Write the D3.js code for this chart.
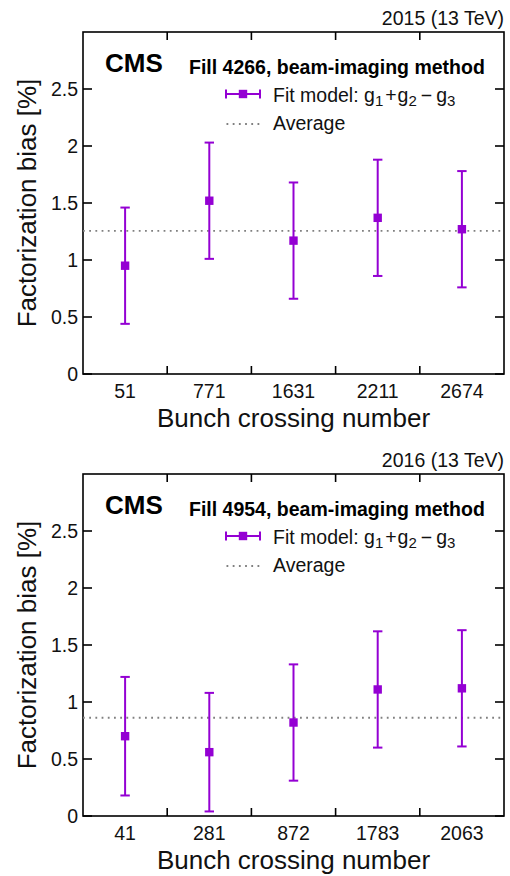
<!DOCTYPE html>
<html>
<head>
<meta charset="utf-8">
<script src="https://cdn.jsdelivr.net/npm/d3@7"></script>
<style>
  html, body { margin: 0; padding: 0; background: #fff; }
  svg { display: block; font-family: "Liberation Sans", Arial, sans-serif; }
</style>
</head>
<body>
<svg id="chart" width="510" height="876"></svg>
<script>
// ---- data ----
const bunches2015 = ["51", "771", "1631", "2211", "2674"];
const bias2015 = [0.95, 1.52, 1.17, 1.37, 1.27];
const err2015 = [0.51, 0.51, 0.51, 0.51, 0.51];
const avg2015 = 1.256;

const bunches2016 = ["41", "281", "872", "1783", "2063"];
const bias2016 = [0.70, 0.56, 0.82, 1.11, 1.12];
const err2016 = [0.52, 0.52, 0.51, 0.51, 0.51];
const avg2016 = 0.862;

const yTicks = [0, 0.5, 1, 1.5, 2, 2.5];
const yTickLabels = ["0", "0.5", "1", "1.5", "2", "2.5"];

const panels = [
  { year: "2015 (13 TeV)", fill: "Fill 4266, beam-imaging method", cats: bunches2015, vals: bias2015, errs: err2015, avg: avg2015 },
  { year: "2016 (13 TeV)", fill: "Fill 4954, beam-imaging method", cats: bunches2016, vals: bias2016, errs: err2016, avg: avg2016 }
];

const purple = "#9400d3";
const svg = d3.select("#chart");

function drawPanel(p, offsetY) {
  const g = svg.append("g").attr("transform", `translate(0,${offsetY})`);
  const L = 83, R = 504, T = 32, B = 374;
  const x = d3.scaleBand().domain(p.cats).range([L, R]).padding(0);
  const y = d3.scaleLinear().domain([0, 3]).range([B, T]);
  const cx = c => x(c) + x.bandwidth() / 2;

  // frame
  g.append("rect").attr("x", L).attr("y", T).attr("width", R - L).attr("height", B - T)
    .attr("fill", "none").attr("stroke", "#000").attr("stroke-width", 1.6);

  // y ticks (left & right, inward)
  yTicks.forEach((v, i) => {
    g.append("line").attr("x1", L).attr("x2", L + 9).attr("y1", y(v)).attr("y2", y(v))
      .attr("stroke", "#000").attr("stroke-width", 1.6);
    g.append("line").attr("x1", R).attr("x2", R - 9).attr("y1", y(v)).attr("y2", y(v))
      .attr("stroke", "#000").attr("stroke-width", 1.6);
    g.append("text").attr("x", L - 5).attr("y", y(v)).attr("dy", "0.36em")
      .attr("text-anchor", "end").attr("font-size", 19.5).attr("fill", "#111")
      .text(yTickLabels[i]);
  });

  // x ticks at category boundaries (bottom & top, inward)
  p.cats.slice(1).forEach(c => {
    const xv = x(c);
    g.append("line").attr("x1", xv).attr("x2", xv).attr("y1", B).attr("y2", B - 8)
      .attr("stroke", "#000").attr("stroke-width", 1.6);
    g.append("line").attr("x1", xv).attr("x2", xv).attr("y1", T).attr("y2", T + 8)
      .attr("stroke", "#000").attr("stroke-width", 1.6);
  });
  // x tick labels
  p.cats.forEach(c => {
    g.append("text").attr("x", cx(c)).attr("y", 397.5).attr("text-anchor", "middle")
      .attr("font-size", 19.5).attr("fill", "#111").text(c);
  });

  // axis titles
  g.append("text").attr("x", (L + R) / 2).attr("y", 427).attr("text-anchor", "middle")
    .attr("font-size", 26).attr("fill", "#111").text("Bunch crossing number");
  g.append("text").attr("transform", `translate(36,${(T + B) / 2}) rotate(-90)`)
    .attr("text-anchor", "middle").attr("font-size", 26).attr("fill", "#111")
    .text("Factorization bias [%]");

  // header
  g.append("text").attr("x", R).attr("y", 24.5).attr("text-anchor", "end")
    .attr("font-size", 19.5).attr("fill", "#111").text(p.year);
  g.append("text").attr("x", 105).attr("y", 72).attr("font-size", 26).attr("font-weight", "bold")
    .attr("fill", "#000").text("CMS");
  g.append("text").attr("x", 189).attr("y", 73.5).attr("font-size", 19.5).attr("font-weight", "bold")
    .attr("fill", "#000").text(p.fill);

  // average line
  g.append("line").attr("x1", L).attr("x2", R).attr("y1", y(p.avg)).attr("y2", y(p.avg))
    .attr("stroke", "#808080").attr("stroke-width", 1.8).attr("stroke-dasharray", "1.8,4.4");

  // error bars + markers
  const pts = p.cats.map((c, i) => ({ c, v: p.vals[i], e: p.errs[i] }));
  const pg = g.append("g");
  pts.forEach(d => {
    const X = cx(d.c);
    pg.append("line").attr("x1", X).attr("x2", X).attr("y1", y(d.v + d.e)).attr("y2", y(d.v - d.e))
      .attr("stroke", purple).attr("stroke-width", 2);
    [d.v + d.e, d.v - d.e].forEach(yy => {
      pg.append("line").attr("x1", X - 4.7).attr("x2", X + 4.7).attr("y1", y(yy)).attr("y2", y(yy))
        .attr("stroke", purple).attr("stroke-width", 2);
    });
    pg.append("rect").attr("x", X - 4.2).attr("y", y(d.v) - 4.2).attr("width", 8.4).attr("height", 8.4)
      .attr("fill", purple);
  });

  // legend
  const ly1 = 94, ly2 = 124;
  g.append("line").attr("x1", 226).attr("x2", 260).attr("y1", ly1).attr("y2", ly1)
    .attr("stroke", purple).attr("stroke-width", 2);
  [226, 260].forEach(xx => g.append("line").attr("x1", xx).attr("x2", xx)
    .attr("y1", ly1 - 4.5).attr("y2", ly1 + 4.5).attr("stroke", purple).attr("stroke-width", 2));
  g.append("rect").attr("x", 243 - 4.2).attr("y", ly1 - 4.2).attr("width", 8.4).attr("height", 8.4)
    .attr("fill", purple);
  const t = g.append("text").attr("x", 273).attr("y", 101.5).attr("font-size", 19.5).attr("fill", "#111");
  t.append("tspan").text("Fit model: g");
  t.append("tspan").attr("dy", 4.5).attr("font-size", 15).text("1");
  t.append("tspan").attr("dy", -4.5).attr("dx", 2).text("+");
  t.append("tspan").attr("dx", 1).text("g");
  t.append("tspan").attr("dy", 4.5).attr("font-size", 15).text("2");
  t.append("tspan").attr("dy", -4.5).attr("dx", 4).text("\u2212");
  t.append("tspan").attr("dx", 4).text("g");
  t.append("tspan").attr("dy", 4.5).attr("font-size", 15).text("3");

  g.append("line").attr("x1", 226.5).attr("x2", 260).attr("y1", ly2).attr("y2", ly2)
    .attr("stroke", "#808080").attr("stroke-width", 1.8).attr("stroke-dasharray", "1.8,4.4");
  g.append("text").attr("x", 273).attr("y", 130).attr("font-size", 19.5).attr("fill", "#111").text("Average");
}

drawPanel(panels[0], 0);
drawPanel(panels[1], 442);
</script>
</body>
</html>
